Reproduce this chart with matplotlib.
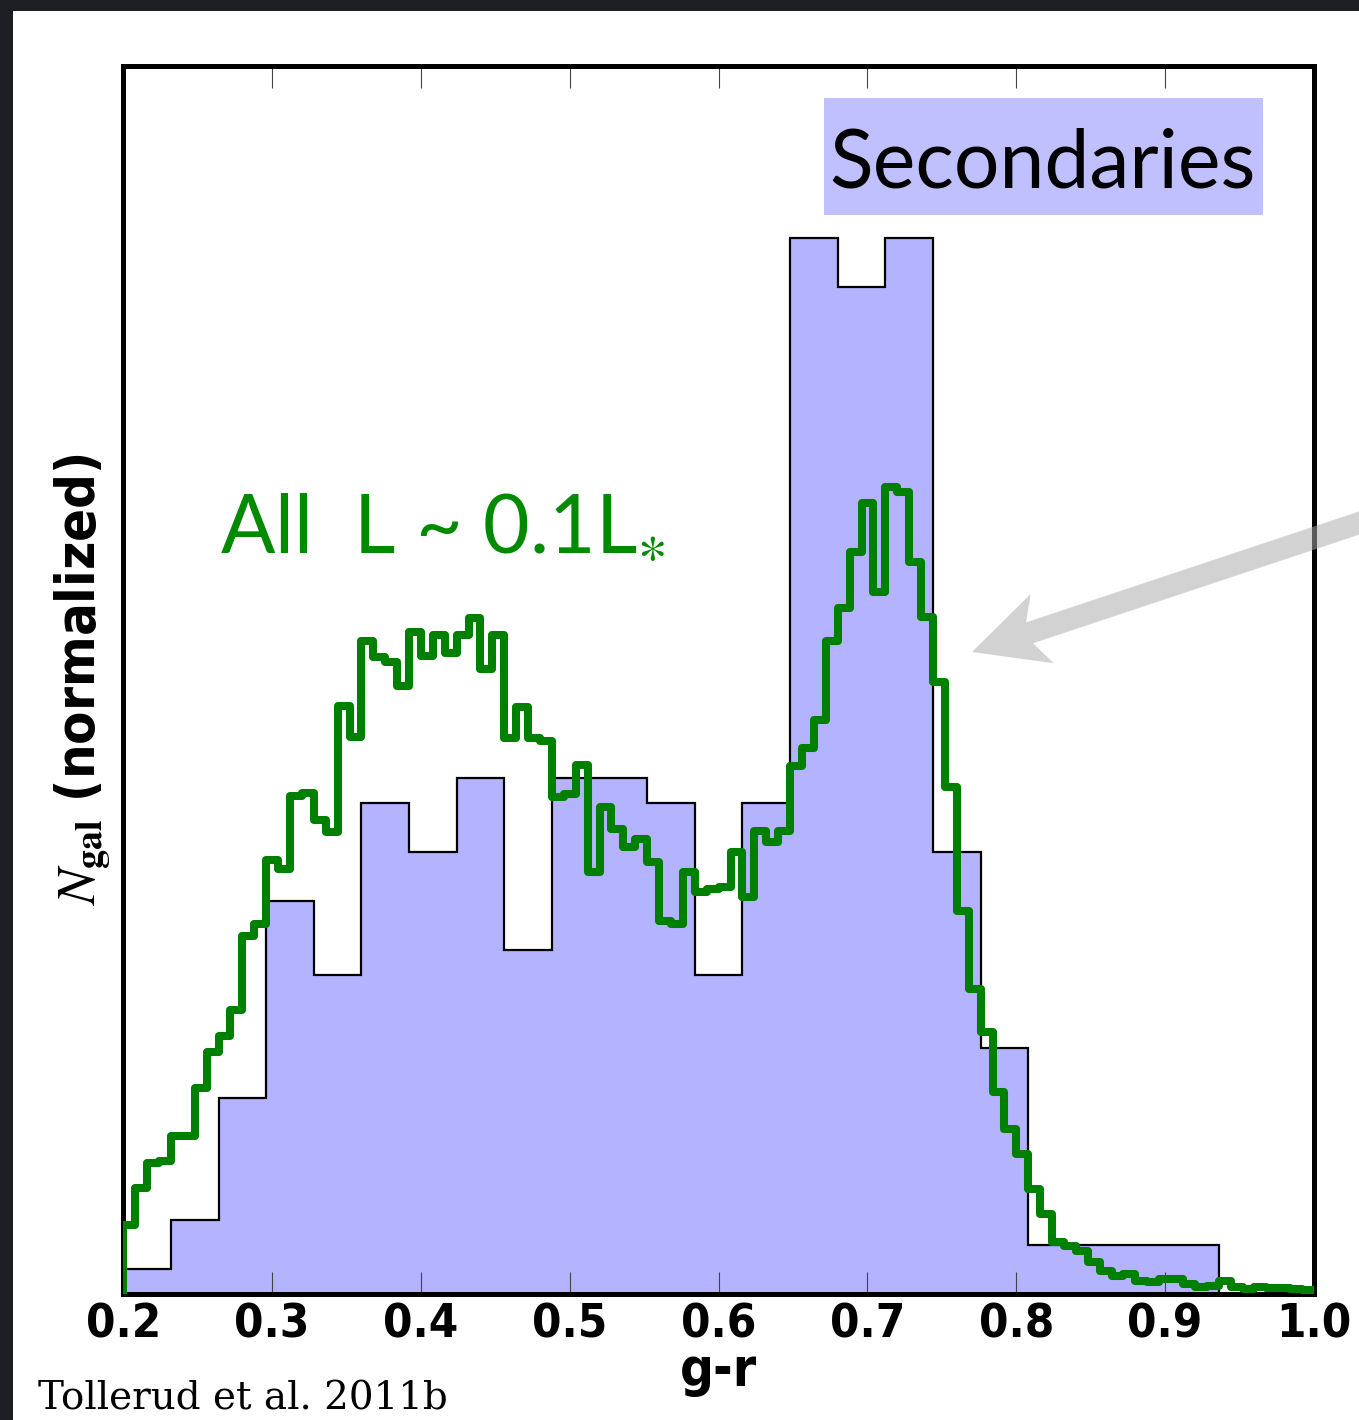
import numpy as np
import matplotlib
matplotlib.use('Agg')
import matplotlib.pyplot as plt
from matplotlib.patches import Rectangle, FancyArrow

plt.rcParams['mathtext.fontset'] = 'stix'

# histograma das secundarias (bins de 0.032)
sec_edges = np.round(0.2 + 0.032 * np.arange(26), 3)
sec_counts = [1, 3, 8, 16, 13, 20, 18, 21, 14, 21, 21, 20, 13, 20,
              43, 41, 43, 18, 10, 2, 2, 2, 2, 0, 0]

# todas as galaxias L ~ 0.1L* (bins de 0.008), mesma escala
all_edges = np.round(np.linspace(0.2, 1.0, 101), 3)
all_vals = [2.81, 4.31, 5.33, 5.41, 6.43, 6.43, 8.38, 9.85, 10.50, 11.55,
            14.56, 15.05, 17.66, 17.29, 20.26, 20.42, 19.32, 18.80, 23.96, 22.70,
            26.57, 25.92, 25.75, 24.74, 26.97, 25.96, 26.85, 26.12, 26.85, 27.54,
            25.43, 26.85, 22.66, 23.92, 22.66, 22.50, 20.22, 20.34, 21.56, 17.17,
            19.85, 18.92, 18.19, 18.51, 17.58, 15.17, 15.05, 17.17, 16.35, 16.48,
            16.56, 17.98, 16.15, 18.84, 18.39, 18.84, 21.48, 22.25, 23.39, 26.57,
            27.95, 30.23, 32.22, 28.60, 32.87, 32.67, 29.82, 27.58, 24.94, 20.63,
            15.58, 12.41, 10.66, 8.22, 6.71, 5.70, 4.27, 3.25, 2.12, 1.95,
            1.75, 1.30, 0.94, 0.73, 0.81, 0.53, 0.49, 0.61, 0.61, 0.41,
            0.28, 0.33, 0.53, 0.28, 0.20, 0.28, 0.24, 0.24, 0.20, 0.16]

xticks = [0.2, 0.3, 0.4, 0.5, 0.6, 0.7, 0.8, 0.9, 1.0]
xtick_labels = ['0.2', '0.3', '0.4', '0.5', '0.6', '0.7', '0.8', '0.9', '1.0']

fig = plt.figure(figsize=(13.59, 14.2), dpi=100, facecolor='#1d1d24')
# painel branco (fundo escuro so na borda de cima e da esquerda)
fig.patches.append(Rectangle((13 / 1359, 0), 1, (1420 - 11) / 1420,
                             transform=fig.transFigure, facecolor='white',
                             edgecolor='none', zorder=-10))

ax = fig.add_axes([0.0907, 0.0887, 0.8762, 0.8648])
ax.stairs(sec_counts, sec_edges, fill=True, color='#b3b3ff', zorder=1)
ax.stairs(sec_counts, sec_edges, color='black', lw=1.6, zorder=2)
ax.stairs(all_vals, all_edges, color='#008000', lw=5.8, zorder=3,
          joinstyle='round')

ax.set_xlim(0.2, 1.0)
ax.set_ylim(0, 50)
ax.set_xticks(xticks)
ax.set_xticklabels(xtick_labels)
ax.set_yticks([])
ax.tick_params(axis='x', direction='in', top=True, length=16, width=0.8,
               color='#444444', pad=6, labelsize=34)
for lab in ax.get_xticklabels():
    lab.set_fontweight('bold')
    lab.set_fontstretch('condensed')
for sp in ax.spines.values():
    sp.set_linewidth(3.6)

ax.set_xlabel('g-r', fontsize=38, fontweight='bold', fontstretch='condensed',
              labelpad=-2)
ax.set_ylabel(r'$N_{\mathbf{gal}}$ (normalized)', fontsize=39,
              fontweight='bold', fontstretch='condensed')
ax.yaxis.set_label_coords(-0.009, 0.5)

# caixa "Secondaries"
fig.patches.append(Rectangle((8.24, 12.05), 4.39, 1.17,
                             transform=fig.dpi_scale_trans,
                             facecolor='#c0c0ff', edgecolor='none', zorder=4))
fig.text(10.43, 12.33, 'Secondaries', transform=fig.dpi_scale_trans,
         ha='center', va='baseline', fontsize=58, family='Lato',
         color='black', zorder=5)

fig.text(2.20, 8.69, r'All  L ~ 0.1L$_{\ast}$', transform=fig.dpi_scale_trans,
         ha='left', va='baseline', fontsize=58, family='Lato',
         color='#008a00', zorder=5)

fig.text(0.38, 0.10, 'Tollerud et al. 2011b', transform=fig.dpi_scale_trans,
         ha='left', va='baseline', fontsize=28, family='DejaVu Serif',
         color='black', zorder=5)

# seta cinza
arrow = FancyArrow(14.18, 9.166, -4.46, -1.486, width=0.22, head_width=0.73,
                   head_length=0.74, overhang=0.18, length_includes_head=True,
                   transform=fig.dpi_scale_trans, facecolor='#ababab',
                   edgecolor='none', alpha=0.53, zorder=3, clip_on=False)
fig.patches.append(arrow)

fig.savefig('out.png', dpi=100, facecolor=fig.get_facecolor())
